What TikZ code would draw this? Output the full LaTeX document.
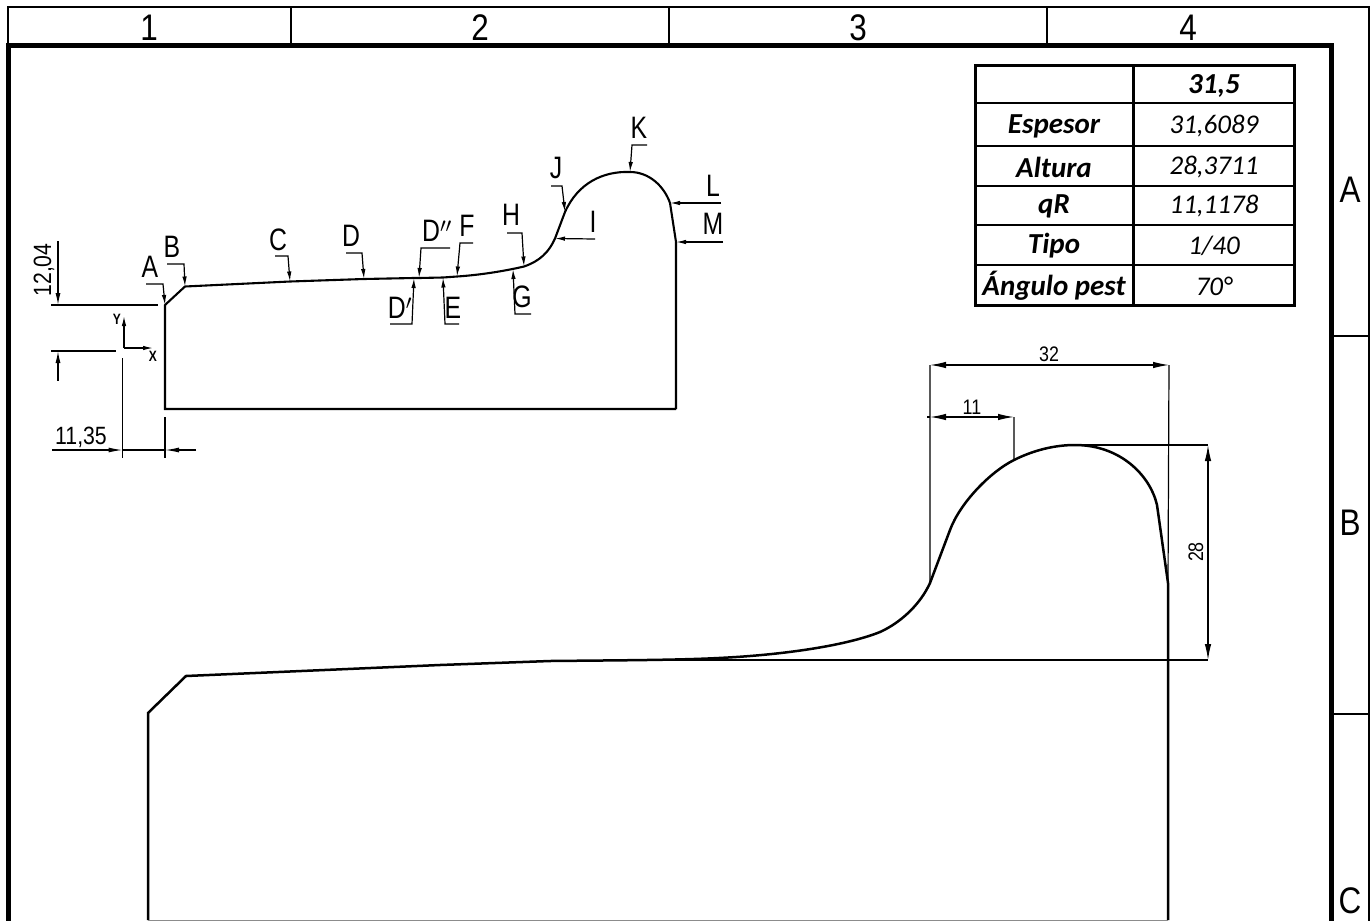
\documentclass[tikz,border=0pt]{standalone}
\usepackage{fontspec}
\setmainfont{Liberation Sans}
\newfontfamily\cadfont[FakeStretch=0.8]{Liberation Sans}
\newfontfamily\cadwide[FakeStretch=0.85]{Liberation Sans}
\newfontfamily\tablefont{Carlito}
\usetikzlibrary{arrows.meta}
\tikzset{
    frame/.style={line width=1.8pt},
    thickframe/.style={line width=5pt},
    profile/.style={line width=2.1pt,line join=miter},
    thin line/.style={line width=1.2pt},
    leader/.style={line width=1.2pt,-{Latex[length=10pt,width=4.5pt]}},
    dimen/.style={line width=1.2pt,{Latex[length=16pt,width=6.5pt]}-{Latex[length=16pt,width=6.5pt]}},
    sector/.style={font=\cadwide\fontsize{37}{37}\selectfont,inner sep=0pt},
    letter/.style={font=\cadfont\fontsize{31}{31}\selectfont,inner sep=0pt},
    dimtext/.style={font=\cadwide\fontsize{21}{21}\selectfont,inner sep=0pt},
    sizetext/.style={font=\cadwide\fontsize{25}{25}\selectfont,inner sep=0pt},
    axistext/.style={font=\cadfont\bfseries\fontsize{15}{15}\selectfont,inner sep=0pt},
    cellb/.style={font=\tablefont\bfseries\itshape\fontsize{29}{29}\selectfont,inner sep=0pt},
    celli/.style={font=\tablefont\itshape\fontsize{27}{27}\selectfont,inner sep=0pt},
}
\begin{document}
\begin{tikzpicture}[x=1pt,y=-1pt]
    \useasboundingbox (0,0) rectangle (1371,921);
    % sheet frame
    \draw[frame] (8,45) -- (8,7) -- (1369,7) -- (1369,921);
    \draw[thickframe] (8,921) -- (8,45) -- (1331,45) -- (1331,921);
    \draw[frame] (291,7) -- (291,45) (669,7) -- (669,45) (1047,7) -- (1047,45);
    \draw[frame] (1331,336) -- (1369,336) (1331,714) -- (1369,714);
    \node[sector] (col_1) at (149,28) {1};
    \node[sector] (col_2) at (480,28) {2};
    \node[sector] (col_3) at (858,28) {3};
    \node[sector] (col_4) at (1188,28) {4};
    \node[sector] (row_A) at (1350,190) {A};
    \node[sector] (row_B) at (1350,523) {B};
    \node[sector] (row_C) at (1350,901) {C};
    % table
    \draw[line width=3pt] (975,65) rectangle (1294,305);
    \draw[line width=3pt] (1133,65) -- (1133,305);
    \draw[line width=2pt] (975,103) -- (1294,103);
    \draw[line width=1.6pt] (975,146) -- (1294,146) (975,186) -- (1294,186)
        (975,225) -- (1294,225) (975,265) -- (1294,265);
    \node[cellb] (val_0) at (1214,86) {31,5};
    \node[cellb] (esp) at (1054,126) {Espesor};
    \node[celli] (esp_v) at (1214,126) {31,6089};
    \node[cellb] (alt) at (1054,167) {Altura};
    \node[celli] (alt_v) at (1214,167) {28,3711};
    \node[cellb] (qr) at (1054,206) {qR};
    \node[celli] (qr_v) at (1214,206) {11,1178};
    \node[cellb] (tip) at (1054,246) {Tipo};
    \node[celli] (tip_v) at (1214,246) {1/40};
    \node[cellb] (ang) at (1054,286) {Ángulo pest};
    \node[celli] (ang_v) at (1214,286) {70°};
    % small profile points
    \coordinate (p_A) at (165,305);
    \coordinate (p_B) at (185,286.5);
    \coordinate (p_C) at (290,281.5);
    \coordinate (p_D) at (364,279);
    \coordinate (p_Dp) at (414,278);
    \coordinate (p_Dpp) at (419,278);
    \coordinate (p_E) at (443,277.5);
    \coordinate (p_F) at (457,276.5);
    \coordinate (p_G) at (513,269);
    \coordinate (p_H) at (524,266.5);
    \coordinate (p_I) at (555,238.5);
    \coordinate (p_J) at (565,212);
    \coordinate (p_K) at (630,172);
    \coordinate (p_L) at (670,203);
    \coordinate (p_M) at (676,242);
    \draw[profile] (676,409) -- (165,409) -- (p_A) -- (p_B) -- (p_C) -- (p_D)
        -- (p_Dp) -- (p_Dpp) -- (p_E) -- (p_F)
        .. controls (480,275) and (505,271) .. (p_H)
        .. controls (540,261) and (549,252) .. (p_I) -- (p_J)
        .. controls (578,183) and (603,171) .. (p_K)
        .. controls (649,172) and (664,186) .. (p_L) -- (p_M) -- (676,409);
    % small profile labels
    \node[letter] (A) at (150,267) {A};
    \node[letter] (B) at (172,247) {B};
    \node[letter] (C) at (278,240) {C};
    \node[letter] (D) at (351,236) {D};
    \node[letter] (Dpp) at (437,231) {D$''$};
    \node[letter] (F) at (467,226) {F};
    \node[letter] (H) at (511,215) {H};
    \node[letter] (Dp) at (400,308) {D$'$};
    \node[letter] (E) at (453,308) {E};
    \node[letter] (G) at (522,297) {G};
    \node[letter] (J) at (556,168) {J};
    \node[letter] (I) at (593,222) {I};
    \node[letter] (K) at (639,128) {K};
    \node[letter] (L) at (713,186) {L};
    \node[letter] (M) at (713,224) {M};
    % leaders
    \draw[leader] (146,284) -- (163,284) -- (p_A);
    \draw[leader] (167,264) -- (184,264) -- (p_B);
    \draw[leader] (275,256) -- (288,256) -- (p_C);
    \draw[leader] (346,253) -- (362,253) -- (p_D);
    \draw[leader] (450,248) -- (421,248) -- (p_Dpp);
    \draw[leader] (473,243) -- (460,243) -- (p_F);
    \draw[leader] (507,233) -- (522,233) -- (p_H);
    \draw[leader] (390,324) -- (412,324) -- (p_Dp);
    \draw[leader] (459,324) -- (445,324) -- (p_E);
    \draw[leader] (531,314) -- (515,314) -- (p_G);
    \draw[leader] (551,186) -- (562,186) -- (p_J);
    \draw[leader] (595,239) -- (p_I);
    \draw[leader] (647,145) -- (632,145) -- (p_K);
    \draw[leader] (721,203) -- (p_L);
    \draw[leader] (723,242) -- (p_M);
    % axes
    \coordinate (orig) at (124,348);
    \coordinate (y_end) at (124,316);
    \coordinate (x_end) at (153,348);
    \draw[leader] (orig) -- (y_end);
    \draw[leader] (orig) -- (x_end);
    \node[axistext] (Y) at (117,319) {Y};
    \node[axistext] (X) at (153,356) {X};
    % small profile dimensions
    \coordinate (d12_t) at (58,305);
    \coordinate (d12_b) at (58,351);
    \draw[thin line] (51,305) -- (158,305) (51,351) -- (116,351);
    \draw[leader,{Latex[length=12pt,width=5pt]}-] (d12_t) -- (58,241);
    \draw[leader,{Latex[length=12pt,width=5pt]}-] (d12_b) -- (58,381);
    \node[sizetext,rotate=90] (d12) at (44,270) {12,04};
    \coordinate (d11_l) at (122.5,450);
    \coordinate (d11_r) at (165,450);
    \draw[thin line] (122.5,358) -- (122.5,458) (165,417) -- (165,458) (d11_l) -- (d11_r);
    \draw[leader,-{Latex[length=14pt,width=5pt]}] (52,450) -- (d11_l);
    \draw[leader,-{Latex[length=14pt,width=5pt]}] (196,450) -- (d11_r);
    \node[sizetext] (d11) at (81,437) {11,35};
    % large profile
    \coordinate (q_a) at (930,583);
    \coordinate (q_b) at (950,530);
    \coordinate (q_top) at (1075,445);
    \coordinate (q_c) at (1157,505);
    \coordinate (q_d) at (1168,583);
    \coordinate (q_e) at (1014,460);
    \draw[profile,line width=2.5pt] (148,920) -- (148,713) -- (186,676) -- (440,665) -- (550,661)
        .. controls (650,660) and (700,660) .. (750,656)
        .. controls (800,652) and (850,644) .. (880,632)
        .. controls (900,623) and (920,605) .. (q_a) -- (q_b)
        .. controls (960,503) and (990,472) .. (q_e)
        .. controls (1034,450) and (1055,445) .. (q_top)
        .. controls (1120,445) and (1150,475) .. (q_c) -- (q_d) -- (1168,920);
    \draw[line width=1pt,black!45] (148,920) -- (1168,920);
    % large profile dimensions
    \coordinate (t32_l) at (930,365);
    \coordinate (t32_r) at (1169,365);
    \coordinate (t11_l) at (930,417);
    \coordinate (t11_r) at (1014,417);
    \coordinate (r28_t) at (1208,445);
    \coordinate (r28_b) at (1208,660);
    \draw[thin line] (q_a) -- (t32_l) (q_d) -- (t32_r) (q_e) -- (t11_r);
    \draw[thin line] (q_top) -- (r28_t) (650,660) -- (r28_b);
    \draw[dimen] (t32_l) -- (t32_r);
    \draw[dimen] (t11_l) -- (t11_r);
    \draw[thin line] (927,417) -- (t11_l);
    \draw[dimen] (r28_t) -- (r28_b);
    \node[dimtext] (d32) at (1049,354) {32};
    \node[dimtext] (d11b) at (972,407) {11};
    \node[dimtext,rotate=90] (d28) at (1196,552) {28};
\end{tikzpicture}
\end{document}
